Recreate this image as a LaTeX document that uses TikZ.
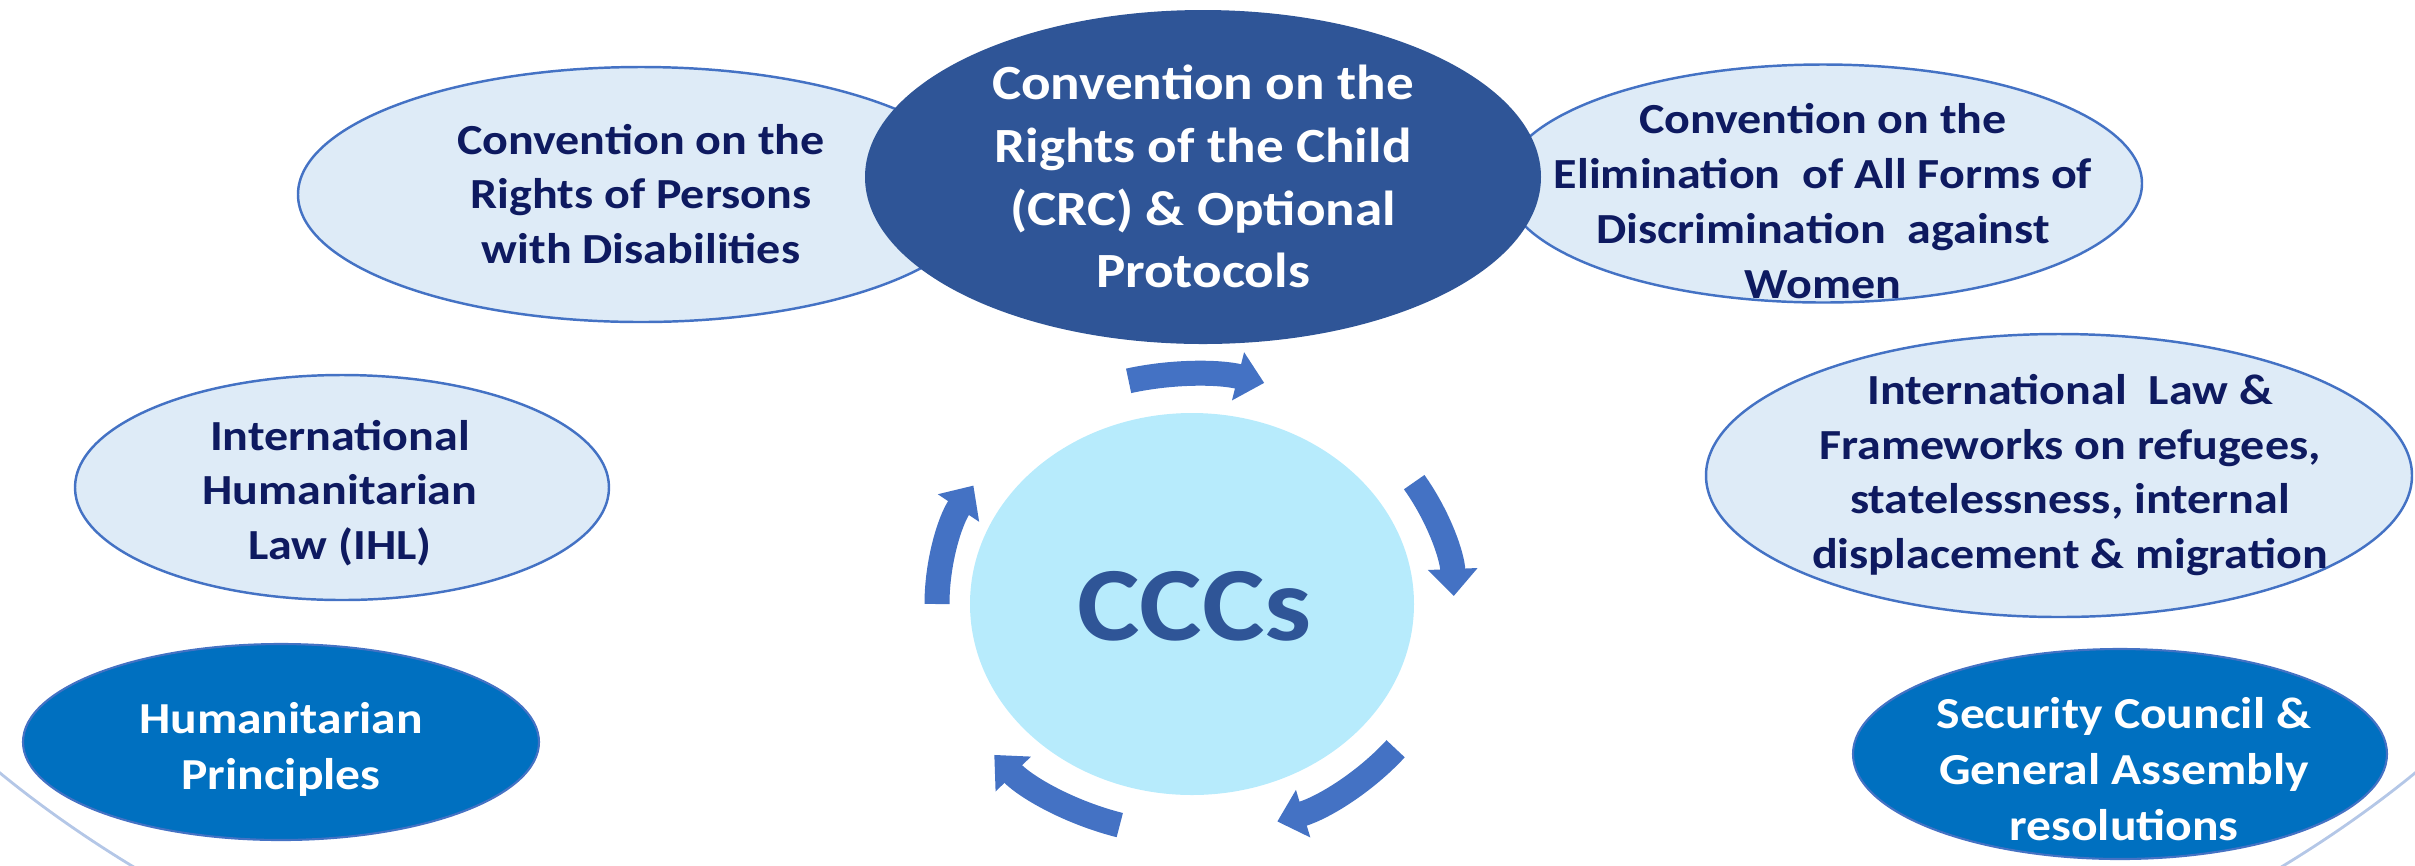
\documentclass[tikz,border=0pt]{standalone}
\usepackage{fontspec}
\setmainfont{Carlito}[FakeStretch=1.12]
\usepackage{tikz}
\usetikzlibrary{shapes.geometric,arrows.meta,calc}
\definecolor{crcblue}{HTML}{2F5597}
\definecolor{hpblue}{HTML}{0070C0}
\definecolor{lightfill}{HTML}{DEEBF7}
\definecolor{edgeblue}{HTML}{4472C4}
\definecolor{cccfill}{HTML}{B7EBFC}
\definecolor{navy}{HTML}{0E1A60}
\definecolor{faintblue}{HTML}{B4C7E7}

\begin{document}
\begin{tikzpicture}[
    lightell/.style={ellipse, draw=edgeblue, line width=0.7pt, fill=lightfill, inner sep=0pt},
    darkell/.style={ellipse, fill=crcblue, inner sep=0pt},
    midell/.style={ellipse, draw=edgeblue, line width=0.6pt, fill=hpblue, inner sep=0pt},
    lighttxt/.style={align=center, text=navy, font=\fontsize{12.2}{15.6}\selectfont\bfseries},
    whitetxt/.style={align=center, text=white, font=\fontsize{12.6}{15.9}\selectfont\bfseries},
    cyc/.style={-{Triangle[width=0.48cm,length=0.27cm]}, line width=0.25cm, draw=edgeblue}
]
    \useasboundingbox (0,0) rectangle (24.15,-8.65);

    % faint outer ring
    \begin{scope}
        \clip (0,0) rectangle (24.15,-8.65);
        \draw[faintblue, line width=0.8pt] (12.075,-3.0) ellipse (14.68 and 8.315);
    \end{scope}

    % upper row
    \node[lightell, minimum width=6.86cm, minimum height=2.55cm] (crpd) at (6.41,-1.945) {};
    \node[lighttxt] (crpd_txt) at (6.41,-1.94) {Convention on the\\Rights of Persons\\with Disabilities};
    \node[lightell, minimum width=6.38cm, minimum height=2.38cm] (cedaw) at (18.23,-1.835) {};
    \node[lighttxt] (cedaw_txt) at (18.23,-2.01) {Convention on the\\Elimination\ \ of All Forms of\\Discrimination\ \ against\\Women};
    \node[darkell, minimum width=6.76cm, minimum height=3.34cm] (crc) at (12.03,-1.77) {};
    \node[whitetxt, font=\fontsize{14}{17.9}\selectfont\bfseries] (crc_txt) at (12.03,-1.765) {Convention on the\\Rights of the Child\\(CRC) \& Optional\\Protocols};

    % middle row
    \node[lightell, minimum width=5.34cm, minimum height=2.25cm] (ihl) at (3.42,-4.875) {};
    \node[lighttxt] (ihl_txt) at (3.40,-4.93) {International\\Humanitarian\\Law (IHL)};
    \node[lightell, minimum width=7.06cm, minimum height=2.83cm] (ilf) at (20.59,-4.755) {};
    \node[lighttxt] (ilf_txt) at (20.70,-4.75) {International\ \ Law \&\\Frameworks on refugees,\\statelessness, internal\\displacement \& migration};

    % lower row
    \node[midell, minimum width=5.16cm, minimum height=1.96cm] (hp) at (2.81,-7.42) {};
    \node[whitetxt] (hp_txt) at (2.81,-7.495) {Humanitarian\\Principles};
    \node[midell, minimum width=5.34cm, minimum height=2.10cm] (sc) at (21.20,-7.54) {};
    \node[whitetxt] (sc_txt) at (21.24,-7.69) {Security Council \&\\General Assembly\\resolutions};

    % centre
    \node[ellipse, fill=cccfill, minimum width=4.44cm, minimum height=3.82cm, inner sep=0pt] (ccc) at (11.92,-6.04) {};
    \node[text=crcblue, font=\fontsize{30}{36}\selectfont\bfseries] (ccc_txt) at (11.945,-6.065) {CCCs};

    % cycle arrows
    \draw[cyc] ($(ccc.center)+(104:2.62 and 2.30)$) arc[start angle=104, end angle=74, x radius=2.62, y radius=2.30];
    \draw[cyc] ($(ccc.center)+(32:2.62 and 2.30)$) arc[start angle=32, end angle=2, x radius=2.62, y radius=2.30];
    \draw[cyc] ($(ccc.center)+(-39:2.62 and 2.30)$) arc[start angle=-39, end angle=-71, x radius=2.62, y radius=2.30];
    \draw[cyc] ($(ccc.center)+(-106:2.62 and 2.30)$) arc[start angle=-106, end angle=-139, x radius=2.62, y radius=2.30];
    \draw[cyc] ($(ccc.center)+(180:2.55 and 2.30)$) arc[start angle=180, end angle=149, x radius=2.55, y radius=2.30];
\end{tikzpicture}
\end{document}
